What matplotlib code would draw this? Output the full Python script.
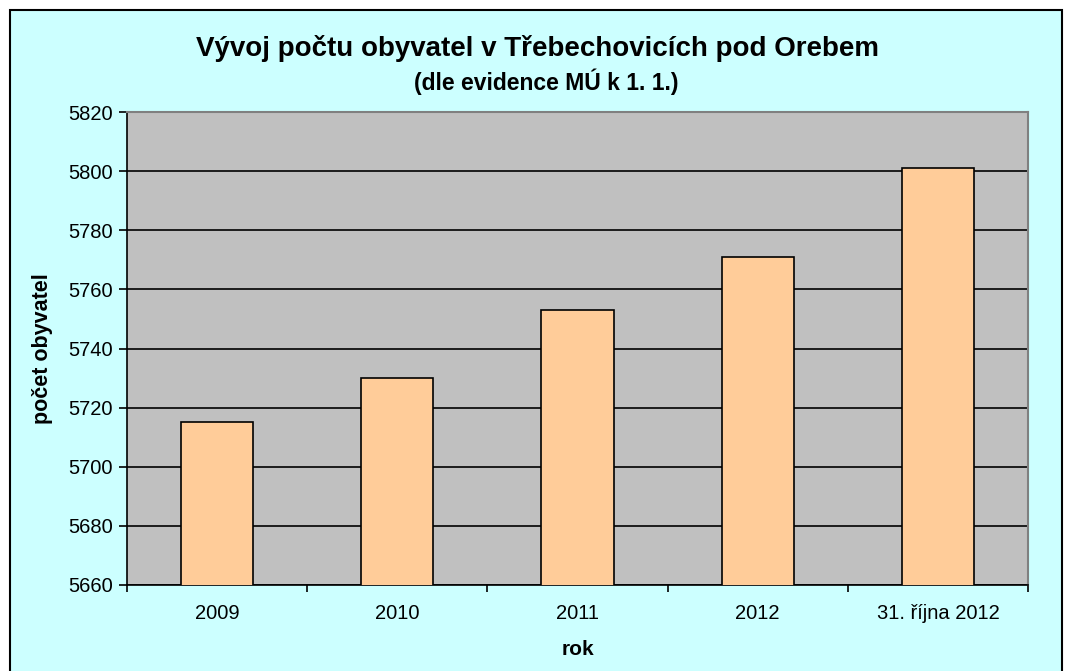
import matplotlib
matplotlib.use('Agg')
import matplotlib.pyplot as plt
from matplotlib.patches import Rectangle

categories = ['2009', '2010', '2011', '2012', '31. října 2012']
population = [5715, 5730, 5753, 5771, 5801]
y_ticks = [5660, 5680, 5700, 5720, 5740, 5760, 5780, 5800, 5820]

plt.rcParams['font.family'] = ['Liberation Sans', 'DejaVu Sans']

W, H = 1067, 671
fig = plt.figure(figsize=(W / 100, H / 100), dpi=100, facecolor='white')

# chart area frame (cyan with black border, runs past bottom edge)
fig.add_artist(Rectangle((10 / W, -0.05), (1062 - 10) / W, 1.05 - 10 / H,
                         transform=fig.transFigure, facecolor='#CCFFFF',
                         edgecolor='black', linewidth=1.5, zorder=-1))

ax = fig.add_axes([127 / W, 1 - 585 / H, (1028 - 127) / W, (585 - 112) / H])
ax.set_facecolor('#C0C0C0')
x = range(len(categories))
ax.bar(x, population, width=0.4, color='#FFCC99', edgecolor='black',
       linewidth=1.2, zorder=3)
ax.set_ylim(5660, 5820)
ax.set_xlim(-0.5, len(categories) - 0.5)
ax.set_yticks(y_ticks)
ax.yaxis.grid(True, color='black', linewidth=1.2, zorder=1)
ax.set_axisbelow(True)

ax.set_xticks(list(x))
ax.set_xticklabels(categories, fontsize=14.5)
ax.tick_params(axis='x', length=0, pad=14)
ax.set_xticks([i - 0.5 for i in range(len(categories) + 1)], minor=True)
ax.tick_params(axis='x', which='minor', length=5, width=1.2, direction='out')
ax.tick_params(axis='y', length=6, width=1.2, direction='out', labelsize=14.5, pad=4)

for s in ['left', 'bottom']:
    ax.spines[s].set_color('black')
    ax.spines[s].set_linewidth(1.2)
for s in ['top', 'right']:
    ax.spines[s].set_color('#808080')
    ax.spines[s].set_linewidth(1.5)

ax.set_xlabel('rok', fontsize=15, fontweight='bold', labelpad=12)
ax.set_ylabel('počet obyvatel', fontsize=15.5, fontweight='bold', labelpad=11)

fig.text(537 / W, 1 - 48 / H, 'Vývoj počtu obyvatel v Třebechovicích pod Orebem',
         ha='center', va='center', fontsize=20, fontweight='bold')
fig.text(546 / W, 1 - 82 / H, '(dle evidence MÚ k 1. 1.)',
         ha='center', va='center', fontsize=16.5, fontweight='bold')

fig.savefig('out.png', dpi=100)
